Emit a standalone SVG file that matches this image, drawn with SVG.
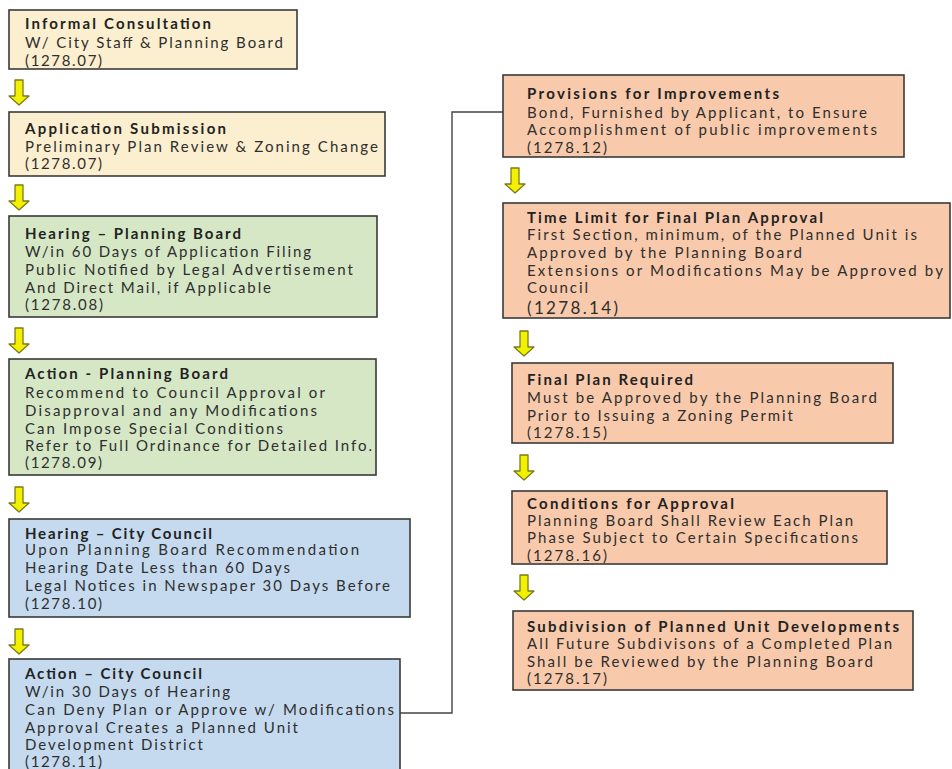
<svg xmlns="http://www.w3.org/2000/svg" width="952" height="769" viewBox="0 0 952 769">
<style>
.box{stroke:#3a3a3a;stroke-width:1.6}
.beige{fill:#fcefcf}
.green{fill:#d6e7c6}
.blue{fill:#c5daee}
.salmon{fill:#f8caab}
text{font-family:Lato,"Open Sans","Liberation Sans",sans-serif;font-size:15px;fill:#2e2e2e}
.t{font-weight:bold;fill:#222}
.big{font-size:17px}
.arrow{fill:#f2f200;stroke:#7d7a1c;stroke-width:1.3;stroke-linejoin:round}
.conn{fill:none;stroke:#444;stroke-width:1.4}
</style>
<defs>
<path id="ar" d="M-4,0 H4 V16 H10 L0,25 L-10,16 H-4 Z"/>
</defs>
<rect width="952" height="769" fill="#fff"/>

<g id="connectors">
<polyline class="conn" points="400,713 452,713 452,112 503,112"/>
<use href="#ar" class="arrow" x="19" y="80"/>
<use href="#ar" class="arrow" x="19" y="185"/>
<use href="#ar" class="arrow" x="19" y="328"/>
<use href="#ar" class="arrow" x="19" y="487"/>
<use href="#ar" class="arrow" x="19" y="629"/>
<use href="#ar" class="arrow" x="515" y="168"/>
<use href="#ar" class="arrow" x="524" y="331"/>
<use href="#ar" class="arrow" x="524" y="455"/>
<use href="#ar" class="arrow" x="524" y="575"/>
</g>

<g id="n1">
<rect class="box beige" x="9" y="10" width="288" height="59"/>
<text class="t" x="25" y="29" textLength="186" lengthAdjust="spacing">Informal Consultation</text>
<text x="25" y="47.5" textLength="258" lengthAdjust="spacing">W/ City Staff &amp; Planning Board</text>
<text x="25" y="65.5" textLength="77" lengthAdjust="spacing">(1278.07)</text>
</g>

<g id="n2">
<rect class="box beige" x="9" y="112" width="376" height="64"/>
<text class="t" x="25" y="133.5" textLength="201" lengthAdjust="spacing">Application Submission</text>
<text x="25" y="151.5" textLength="353" lengthAdjust="spacing">Preliminary Plan Review &amp; Zoning Change</text>
<text x="25" y="169" textLength="77" lengthAdjust="spacing">(1278.07)</text>
</g>

<g id="n3">
<rect class="box green" x="9" y="216" width="368" height="101"/>
<text class="t" x="25" y="238.5" textLength="216" lengthAdjust="spacing">Hearing – Planning Board</text>
<text x="25" y="257" textLength="286" lengthAdjust="spacing">W/in 60 Days of Application Filing</text>
<text x="25" y="274.5" textLength="328" lengthAdjust="spacing">Public Notified by Legal Advertisement</text>
<text x="25" y="292.5" textLength="246" lengthAdjust="spacing">And Direct Mail, if Applicable</text>
<text x="25" y="309.5" textLength="78" lengthAdjust="spacing">(1278.08)</text>
</g>

<g id="n4">
<rect class="box green" x="9" y="359" width="367" height="116"/>
<text class="t" x="25" y="378.5" textLength="203" lengthAdjust="spacing">Action - Planning Board</text>
<text x="25" y="397.5" textLength="300" lengthAdjust="spacing">Recommend to Council Approval or</text>
<text x="25" y="415.5" textLength="292" lengthAdjust="spacing">Disapproval and any Modifications</text>
<text x="25" y="433.5" textLength="258" lengthAdjust="spacing">Can Impose Special Conditions</text>
<text x="25" y="450.5" textLength="347" lengthAdjust="spacing">Refer to Full Ordinance for Detailed Info.</text>
<text x="25" y="467.5" textLength="77" lengthAdjust="spacing">(1278.09)</text>
</g>

<g id="n5">
<rect class="box blue" x="9" y="519" width="401" height="98"/>
<text class="t" x="25" y="538.5" textLength="187" lengthAdjust="spacing">Hearing – City Council</text>
<text x="25" y="555" textLength="334" lengthAdjust="spacing">Upon Planning Board Recommendation</text>
<text x="25" y="572.5" textLength="265" lengthAdjust="spacing">Hearing Date Less than 60 Days</text>
<text x="25" y="590.5" textLength="365" lengthAdjust="spacing">Legal Notices in Newspaper 30 Days Before</text>
<text x="25" y="608.5" textLength="77" lengthAdjust="spacing">(1278.10)</text>
</g>

<g id="n6">
<rect class="box blue" x="9" y="659" width="391" height="118"/>
<text class="t" x="25" y="678.5" textLength="177" lengthAdjust="spacing">Action – City Council</text>
<text x="25" y="696.5" textLength="205" lengthAdjust="spacing">W/in 30 Days of Hearing</text>
<text x="25" y="714.5" textLength="369" lengthAdjust="spacing">Can Deny Plan or Approve w/ Modifications</text>
<text x="25" y="732.5" textLength="273" lengthAdjust="spacing">Approval Creates a Planned Unit</text>
<text x="25" y="749.5" textLength="178" lengthAdjust="spacing">Development District</text>
<text x="25" y="766.5" textLength="77" lengthAdjust="spacing">(1278.11)</text>
</g>

<g id="n7">
<rect class="box salmon" x="503" y="75" width="401" height="82"/>
<text class="t" x="527" y="98.5" textLength="252" lengthAdjust="spacing">Provisions for Improvements</text>
<text x="527" y="117.5" textLength="340" lengthAdjust="spacing">Bond, Furnished by Applicant, to Ensure</text>
<text x="527" y="134.5" textLength="350" lengthAdjust="spacing">Accomplishment of public improvements</text>
<text x="527" y="152.5" textLength="80" lengthAdjust="spacing">(1278.12)</text>
</g>

<g id="n8">
<rect class="box salmon" x="503" y="203" width="447" height="115"/>
<text class="t" x="527" y="222.5" textLength="296" lengthAdjust="spacing">Time Limit for Final Plan Approval</text>
<text x="527" y="239.5" textLength="390" lengthAdjust="spacing">First Section, minimum, of the Planned Unit is</text>
<text x="527" y="257.5" textLength="275" lengthAdjust="spacing">Approved by the Planning Board</text>
<text x="527" y="275.5" textLength="416" lengthAdjust="spacing">Extensions or Modifications May be Approved by</text>
<text x="527" y="292.5" textLength="61" lengthAdjust="spacing">Council</text>
<text class="big" x="527" y="313.5" textLength="91" lengthAdjust="spacing">(1278.14)</text>
</g>

<g id="n9">
<rect class="box salmon" x="512" y="363" width="381" height="80"/>
<text class="t" x="527" y="384.5" textLength="166" lengthAdjust="spacing">Final Plan Required</text>
<text x="527" y="402.5" textLength="350" lengthAdjust="spacing">Must be Approved by the Planning Board</text>
<text x="527" y="420.5" textLength="266" lengthAdjust="spacing">Prior to Issuing a Zoning Permit</text>
<text x="527" y="437.5" textLength="80" lengthAdjust="spacing">(1278.15)</text>
</g>

<g id="n10">
<rect class="box salmon" x="512" y="491" width="375" height="73"/>
<text class="t" x="527" y="508.5" textLength="207" lengthAdjust="spacing">Conditions for Approval</text>
<text x="527" y="525.5" textLength="326" lengthAdjust="spacing">Planning Board Shall Review Each Plan</text>
<text x="527" y="542.5" textLength="331" lengthAdjust="spacing">Phase Subject to Certain Specifications</text>
<text x="527" y="560.5" textLength="80" lengthAdjust="spacing">(1278.16)</text>
</g>

<g id="n11">
<rect class="box salmon" x="513" y="611" width="400" height="79"/>
<text class="t" x="527" y="631.5" textLength="372" lengthAdjust="spacing">Subdivision of Planned Unit Developments</text>
<text x="527" y="648.5" textLength="365" lengthAdjust="spacing">All Future Subdivisons of a Completed Plan</text>
<text x="527" y="666.5" textLength="346" lengthAdjust="spacing">Shall be Reviewed by the Planning Board</text>
<text x="527" y="683.5" textLength="80" lengthAdjust="spacing">(1278.17)</text>
</g>
</svg>
